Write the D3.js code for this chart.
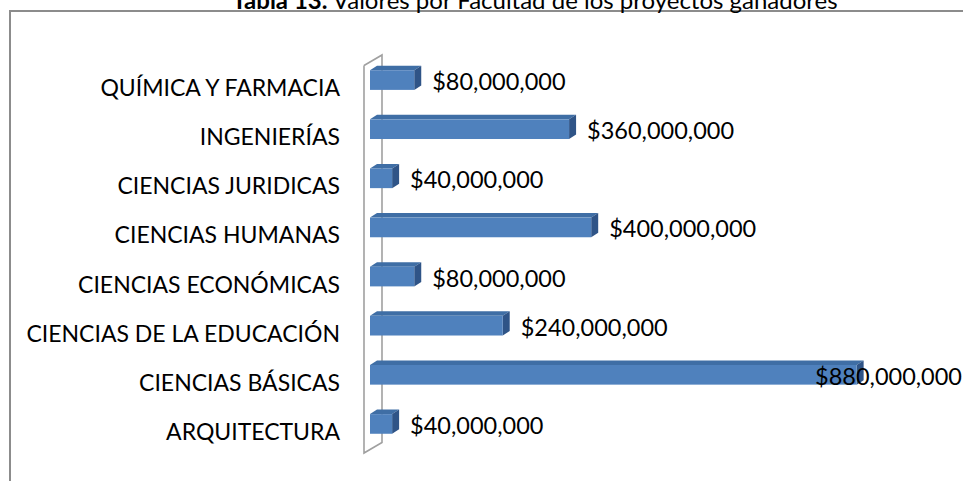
<!DOCTYPE html>
<html>
<head>
<meta charset="utf-8">
<script src="https://cdn.jsdelivr.net/npm/d3@7"></script>
<style>
  html, body { margin: 0; padding: 0; background: #fff; overflow: hidden; }
  svg { display: block; }
  text { font-family: Lato, "Open Sans", sans-serif; fill: #000; }
</style>
</head>
<body>
<svg id="chart" width="963" height="481"></svg>
<script>
// Faculties, listed bottom to top as they appear on the category axis
const categories = [
  "ARQUITECTURA",
  "CIENCIAS BÁSICAS",
  "CIENCIAS DE LA EDUCACIÓN",
  "CIENCIAS ECONÓMICAS",
  "CIENCIAS HUMANAS",
  "CIENCIAS JURIDICAS",
  "INGENIERÍAS",
  "QUÍMICA Y FARMACIA"
];
// Amount awarded per faculty (COP)
const values = [40000000, 880000000, 240000000, 80000000, 400000000, 40000000, 360000000, 80000000];
const valueDomain = [0, 1000000000];

const titleBold = "Tabla 13.";
const titleRest = " Valores por Facultad de los proyectos ganadores";

const W = 963, H = 481;
const svg = d3.select("#chart");

// Chart frame (only top and left edges fall inside the view)
svg.append("rect")
  .attr("x", 10).attr("y", 11)
  .attr("width", W + 20).attr("height", H + 20)
  .attr("fill", "#fff")
  .attr("stroke", "#8c8c8c").attr("stroke-width", 2);

// Caption, partly above the top edge of the view
const title = svg.append("text")
  .attr("x", 535).attr("y", 8.5)
  .attr("text-anchor", "middle")
  .style("font-size", "24px");
title.append("tspan").attr("font-weight", "bold").text(titleBold);
title.append("tspan").text(titleRest);

// Scales
const x = d3.scaleLinear().domain(valueDomain).range([370, 923]);
const data = categories.map((c, i) => ({ cat: c, val: values[i] }));
const y = d3.scaleBand()
  .domain(categories.slice().reverse())
  .range([55.5, 448.5])
  .paddingInner(0.6)
  .paddingOuter(0.3);

// 3D depth offsets
const wallDx = 18, wallDy = -10.5;
const barDx = 7, barDy = -4.5;

// Side wall of the 3D plot
const wallFrontX = 364;
const wallTop = 65.5, wallBottom = 453;
svg.append("path")
  .attr("d", d3.line()([
    [wallFrontX, wallTop],
    [wallFrontX + wallDx, wallTop + wallDy],
    [wallFrontX + wallDx, wallBottom + wallDy],
    [wallFrontX, wallBottom],
    [wallFrontX, wallTop]
  ]))
  .attr("fill", "none")
  .attr("stroke", "#a0a0a0")
  .attr("stroke-width", 1.6);

// Bars
const bars = svg.append("g").selectAll("g").data(data).join("g");

bars.each(function (d) {
  const g = d3.select(this);
  const x0 = x(0), x1 = x(d.val);
  const y0 = y(d.cat), h = y.bandwidth();
  // top face
  g.append("path")
    .attr("d", d3.line()([[x0, y0], [x0 + barDx, y0 + barDy], [x1 + barDx, y0 + barDy], [x1, y0]]) + "Z")
    .attr("fill", "#3f6ea5");
  // right face
  g.append("path")
    .attr("d", d3.line()([[x1, y0], [x1 + barDx, y0 + barDy], [x1 + barDx, y0 + h + barDy], [x1, y0 + h]]) + "Z")
    .attr("fill", "#2f5487");
  // front face
  g.append("rect")
    .attr("x", x0).attr("y", y0)
    .attr("width", x1 - x0).attr("height", h)
    .attr("fill", "#4f81bd");
});

// Category labels
svg.append("g").selectAll("text").data(data).join("text")
  .attr("x", 340)
  .attr("y", d => y(d.cat) + y.bandwidth() / 2 + 7)
  .attr("text-anchor", "end")
  .attr("dominant-baseline", "central")
  .style("font-size", "23px")
  .text(d => d.cat);

// Value labels, kept inside the chart frame
const fmt = v => "$" + d3.format(",")(v);
const rightLimit = W - 1;
svg.append("g").selectAll("text").data(data).join("text")
  .attr("y", d => y(d.cat) + y.bandwidth() / 2 + 1)
  .attr("dominant-baseline", "central")
  .style("font-size", "23.5px")
  .text(d => fmt(d.val))
  .attr("x", function (d) {
    const w = this.getComputedTextLength();
    return Math.min(x(d.val) + barDx + 11, rightLimit - w);
  });
</script>
</body>
</html>
